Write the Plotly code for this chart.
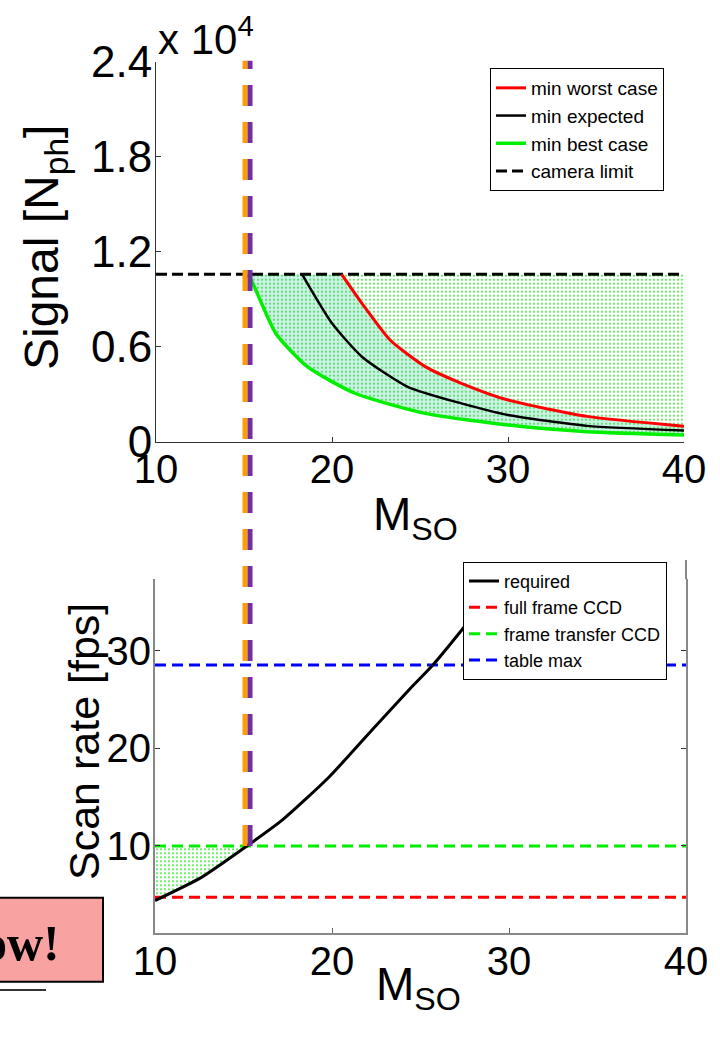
import plotly.graph_objects as go

# ---------------- data ----------------
# top panel: signal (in units of 1e4 photons) vs M_SO
M_best = [15.2, 15.5, 16.8, 18.6, 21.3, 25.3, 30.0, 34.5, 40.0]
S_best = [1.057, 1.0, 0.685, 0.474, 0.306, 0.179, 0.105, 0.063, 0.042]
M_exp = [18.3, 20.0, 21.7, 24.3, 27.35, 30.0, 34.5, 40.0]
S_exp = [1.057, 0.748, 0.537, 0.347, 0.242, 0.169, 0.100, 0.071]
M_worst = [20.55, 21.7, 23.3, 25.3, 27.35, 30.0, 34.5, 40.0]
S_worst = [1.057, 0.874, 0.642, 0.474, 0.369, 0.263, 0.160, 0.098]
cam_limit = 1.057
M_span = [10, 40]
M_cross = 15.2
sig_ticks = [0, 0.6, 1.2, 1.8, 2.4]
sig_ticktext = ["0", "0.6", "1.2", "1.8", "2.4"]

# bottom panel: scan rate vs M_SO
M_req = [10, 12.6, 15.2, 17.2, 19.85, 22.26, 24.5, 25.7, 27.4, 29.0, 30.5]
R_req = [4.4, 6.75, 10.0, 12.67, 17.1, 21.9, 26.3, 28.56, 32.3, 36.0, 39.5]
full_frame = 4.74
frame_transfer = 10.0
table_max = 28.56
rate_ticks = [10, 20, 30]
m_ticks = [10, 20, 30, 40]

# ---------------- layout helpers ----------------
W, H = 720, 1038
def fy(p):
    return 1 - p / H

FONT = "Liberation Sans, Arial, Helvetica, sans-serif"
GREEN = "#00ee00"
SPL = dict(shape="spline", smoothing=0.6)
DOTS = dict(shape=".", fgcolor="#3be83b", size=4, solidity=0.2)

fig = go.Figure()

def band(x_top, y_top, x_bot, y_bot, axes, **fillkw):
    """Fill between an upper boundary and a lower boundary (both left to right)."""
    xa, ya = axes
    fig.add_trace(go.Scatter(x=x_top, y=y_top, mode="lines", line=dict(width=0),
                             showlegend=False, hoverinfo="skip", xaxis=xa, yaxis=ya))
    fig.add_trace(go.Scatter(x=x_bot, y=y_bot, mode="lines", fill="tonexty",
                             line=dict(width=0, **SPL), showlegend=False,
                             hoverinfo="skip", xaxis=xa, yaxis=ya, **fillkw))

# ---- top panel fills ----
band([M_cross, M_span[1]], [cam_limit] * 2, M_best, S_best, ("x", "y"),
     fillcolor="rgb(206,240,234)")
band([M_worst[0], M_span[1]], [cam_limit] * 2, M_worst, S_worst, ("x", "y"),
     fillcolor="white")
band([M_cross, M_span[1]], [cam_limit] * 2, M_best, S_best, ("x", "y"),
     fillcolor="rgba(0,0,0,0)", fillpattern=DOTS)

# ---- top panel lines ----
fig.add_trace(go.Scatter(x=M_span, y=[cam_limit, cam_limit], mode="lines",
                         name="camera limit", legend="legend", legendrank=4,
                         line=dict(color="black", width=3, dash="11px,5px"),
                         xaxis="x", yaxis="y"))
fig.add_trace(go.Scatter(x=M_worst, y=S_worst, mode="lines", name="min worst case",
                         legend="legend", legendrank=1,
                         line=dict(color="#ff0000", width=3, **SPL),
                         xaxis="x", yaxis="y"))
fig.add_trace(go.Scatter(x=M_exp, y=S_exp, mode="lines", name="min expected",
                         legend="legend", legendrank=2,
                         line=dict(color="black", width=2.5, **SPL),
                         xaxis="x", yaxis="y"))
fig.add_trace(go.Scatter(x=M_best, y=S_best, mode="lines", name="min best case",
                         legend="legend", legendrank=3,
                         line=dict(color=GREEN, width=3.5, **SPL),
                         xaxis="x", yaxis="y"))

# ---- bottom panel fill ----
low_M = [m for m in M_req if m <= M_cross]
low_R = [r for m, r in zip(M_req, R_req) if m <= M_cross]
band([M_span[0], M_cross], [frame_transfer] * 2, low_M, low_R, ("x2", "y2"),
     fillcolor="rgba(0,0,0,0)", fillpattern=DOTS)

# ---- bottom panel lines ----
fig.add_trace(go.Scatter(x=M_span, y=[full_frame] * 2, mode="lines", name="full frame CCD",
                         legend="legend2", legendrank=2,
                         line=dict(color="#ff0000", width=3, dash="11px,6px"),
                         xaxis="x2", yaxis="y2"))
fig.add_trace(go.Scatter(x=M_span, y=[frame_transfer] * 2, mode="lines",
                         name="frame transfer CCD", legend="legend2", legendrank=3,
                         line=dict(color=GREEN, width=3, dash="11px,6px"),
                         xaxis="x2", yaxis="y2"))
fig.add_trace(go.Scatter(x=M_span, y=[table_max] * 2, mode="lines", name="table max",
                         legend="legend2", legendrank=4,
                         line=dict(color="#0000ff", width=3, dash="11px,6px"),
                         xaxis="x2", yaxis="y2"))
fig.add_trace(go.Scatter(x=M_req, y=R_req, mode="lines", name="required",
                         legend="legend2", legendrank=1,
                         line=dict(color="black", width=3, **SPL),
                         xaxis="x2", yaxis="y2"))

# ---- axes ----
xtick = dict(family=FONT, size=40, color="black")
ytick = dict(family=FONT, size=44, color="black")
common_ax = dict(automargin=False, showgrid=False, zeroline=False,
                 ticks="inside", ticklen=5)
fig.update_layout(
    xaxis=dict(domain=[156 / W, 684 / W], range=M_span, anchor="y",
               tickvals=m_ticks, tickcolor="#333", tickfont=xtick, ticklabelstandoff=-8,
               showline=True, linecolor="#333", linewidth=1, **common_ax),
    yaxis=dict(domain=[fy(441.7), fy(61.7)], range=[0, 2.4], anchor="x",
               tickvals=sig_ticks, ticktext=sig_ticktext, tickfont=ytick,
               ticklabelstandoff=-6,
               tickcolor="#333", showline=True, linecolor="#333", linewidth=1,
               **common_ax),
    xaxis2=dict(domain=[155 / W, 686 / W], range=M_span, anchor="y2",
                tickvals=m_ticks, tickcolor="#666", tickfont=xtick, ticklabelstandoff=-8,
                showline=True, linecolor="#888", linewidth=2, **common_ax),
    yaxis2=dict(domain=[fy(932.7), fy(579.3)], range=[1.1, 37.35], anchor="x2",
                tickvals=rate_ticks, tickcolor="#333", tickfont=xtick,
                ticklabelstandoff=-6,
                showline=True, mirror="ticks", linecolor="#888", linewidth=2,
                **common_ax),
)

legend_common = dict(bgcolor="white", bordercolor="black", borderwidth=1,
                     xanchor="left", yanchor="top", tracegroupgap=0,
                     traceorder="normal",
                     itemclick=False, itemdoubleclick=False)
fig.update_layout(
    legend=dict(x=490 / W, y=fy(68), font=dict(family=FONT, size=19, color="black"),
                **legend_common),
    legend2=dict(x=463 / W, y=fy(561.7), font=dict(family=FONT, size=18, color="black"),
                 **legend_common),
)

# ---- vertical crossing marker (orange / purple dashed) ----
px_unit = (M_span[1] - M_span[0]) / (684 - 156)
for off, col in [(-2.5, "#ff9d00"), (2.5, "#7030a0")]:
    fig.add_shape(type="line", xref="x", yref="paper",
                  x0=M_cross + off * px_unit, x1=M_cross + off * px_unit,
                  y0=fy(846), y1=fy(60.7),
                  line=dict(color=col, width=5, dash="21px,16px"))

# right frame line of the lower panel continues a little above the plot area
fig.add_shape(type="line", xref="paper", yref="paper", x0=686 / W, x1=686 / W,
              y0=fy(579.3), y1=fy(560), line=dict(color="#888", width=2), layer="below")

# ---- pink note box (cut at left edge) ----
fig.add_shape(type="rect", xref="paper", yref="paper", x0=-10 / W, x1=103 / W,
              y0=fy(981.7), y1=fy(897.7), fillcolor="#f8a2a2",
              line=dict(color="black", width=2))
fig.add_shape(type="line", xref="paper", yref="paper", x0=0, x1=46 / W,
              y0=fy(990), y1=fy(990), line=dict(color="#333", width=2))

annotations = [
    dict(text="ow!", x=62 / W, y=fy(943), xanchor="right", yanchor="middle",
         font=dict(family="Liberation Serif, Times New Roman, serif", size=50,
                   color="black", weight="bold"), showarrow=False),
    dict(text="x 10<sup>4</sup>", x=156 / W, y=fy(65), xanchor="left", yanchor="bottom",
         font=dict(family=FONT, size=42, color="black"), showarrow=False),
    dict(text="Signal [N<sub>ph</sub>]", x=45 / W, y=fy(248), xanchor="center",
         yanchor="middle", textangle=-90,
         font=dict(family=FONT, size=48, color="black"), showarrow=False),
    dict(text="Scan rate [fps]", x=84 / W, y=fy(742), xanchor="center",
         yanchor="middle", textangle=-90,
         font=dict(family=FONT, size=43, color="black"), showarrow=False),
    dict(text="M<sub>SO</sub>", x=416 / W, y=fy(517), xanchor="center",
         yanchor="middle", font=dict(family=FONT, size=46, color="black"),
         showarrow=False),
    dict(text="M<sub>SO</sub>", x=418 / W, y=fy(987), xanchor="center",
         yanchor="middle", font=dict(family=FONT, size=46, color="black"),
         showarrow=False),
]
for a in annotations:
    a["xref"] = "paper"
    a["yref"] = "paper"
fig.update_layout(annotations=annotations)

fig.update_layout(template="none", width=W, height=H,
                  margin=dict(l=0, r=0, t=0, b=0, pad=0, autoexpand=False),
                  paper_bgcolor="white", plot_bgcolor="white",
                  showlegend=True, hovermode=False)

fig.write_html("out.html", config={"displayModeBar": False},
               post_script="document.body.style.margin='0px';document.body.style.padding='0px';")
